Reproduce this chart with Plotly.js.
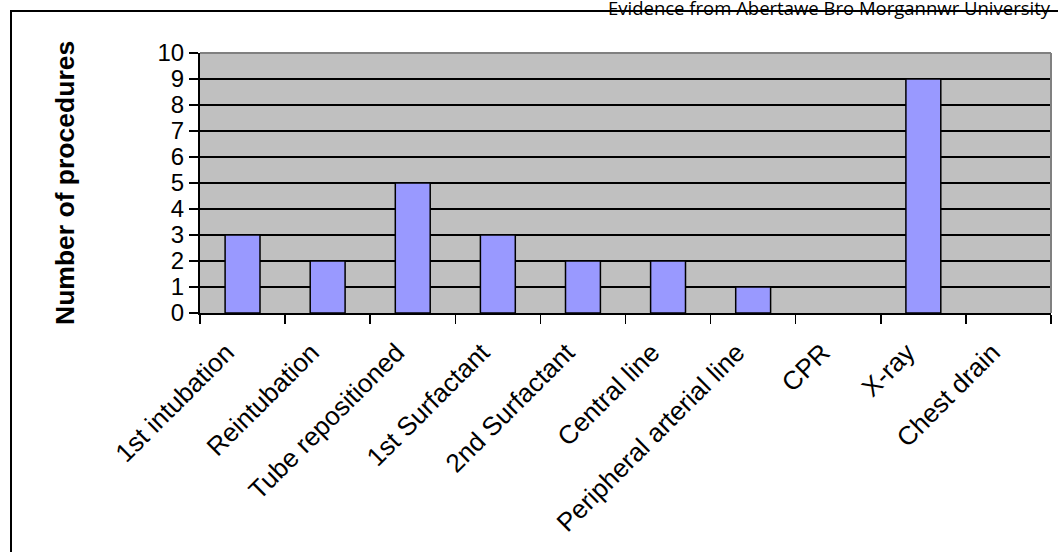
<!DOCTYPE html>
<html>
<head>
<meta charset="utf-8">
<script src="https://cdn.plot.ly/plotly-3.0.1.min.js"></script>
<style>
  html, body { margin: 0; padding: 0; background: #ffffff; }
  #chart { width: 1058px; height: 552px; }
</style>
</head>
<body>
<div id="chart"></div>
<script>
const categories = ["1st intubation", "Reintubation", "Tube repositioned", "1st Surfactant",
  "2nd Surfactant", "Central line", "Peripheral arterial line", "CPR", "X-ray", "Chest drain"];
const procedures = [3, 2, 5, 3, 2, 2, 1, 0, 9, 0];
const yTicks = [0, 1, 2, 3, 4, 5, 6, 7, 8, 9, 10];
const yTitle = "Number of procedures";
const sourceNote = "Evidence from Abertawe Bro Morgannwr University";

const W = 1058, H = 552;
const margin = {l: 200, r: 7, t: 53, b: 239};
const pw = W - margin.l - margin.r, ph = H - margin.t - margin.b;
const px = x => (x - margin.l) / pw;
const py = y => (H - margin.b - y) / ph;

const trace = {
  type: "bar",
  x: categories,
  y: procedures,
  marker: {
    color: "#9999FF",
    line: {color: "#000000", width: procedures.map(v => v > 0 ? 1.5 : 0)}
  },
  hoverinfo: "x+y"
};

const layout = {
  width: W, height: H,
  margin: margin,
  paper_bgcolor: "#ffffff",
  plot_bgcolor: "#C0C0C0",
  bargap: 0.59,
  showlegend: false,
  font: {family: "Liberation Sans, Arial, sans-serif", color: "#000000"},
  xaxis: {
    type: "category",
    tickangle: -45,
    tickfont: {size: 26, family: "Liberation Sans, Arial, sans-serif", color: "#000"},
    ticks: "outside", ticklen: 9, tickwidth: 1.5, tickcolor: "#000",
    tickson: "boundaries",
    ticklabelstandoff: 12,
    ticklabelshift: -16,
    showline: true, linecolor: "#000", linewidth: 2,
    showgrid: false, zeroline: false,
    automargin: false
  },
  yaxis: {
    range: [0, 10],
    tickvals: yTicks,
    ticktext: yTicks.map(String),
    tickfont: {size: 24, family: "Liberation Sans, Arial, sans-serif", color: "#000"},
    ticks: "outside", ticklen: 9, tickwidth: 1.5, tickcolor: "#000",
    showline: true, linecolor: "#000", linewidth: 2,
    showgrid: true, gridcolor: "#000", gridwidth: 1.5,
    zeroline: false,
    automargin: false
  },
  shapes: [
    {type: "line", xref: "paper", yref: "paper", x0: 0, x1: 1, y0: 1, y1: 1,
     line: {color: "#808080", width: 2}, layer: "above"},
    {type: "line", xref: "paper", yref: "paper", x0: 1, x1: 1, y0: 0, y1: 1,
     line: {color: "#808080", width: 2}, layer: "above"},
    {type: "rect", xref: "paper", yref: "paper",
     x0: px(11), x1: px(1075), y0: py(570), y1: py(11),
     line: {color: "#000", width: 2}, fillcolor: "rgba(0,0,0,0)", layer: "above"}
  ],
  annotations: [
    {text: "<b>" + yTitle + "</b>", xref: "paper", yref: "paper",
     x: px(65), y: 0.5, xanchor: "center", yanchor: "middle", textangle: -90,
     showarrow: false, font: {size: 26.5, family: "Liberation Sans, Arial, sans-serif", color: "#000"}},
    {text: sourceNote, xref: "paper", yref: "paper",
     x: px(1053), y: py(22), xanchor: "right", yanchor: "bottom",
     showarrow: false, font: {size: 18.5, family: "Open Sans, sans-serif", color: "#000"}}
  ]
};

Plotly.newPlot("chart", [trace], layout, {displayModeBar: false, staticPlot: true});
</script>
</body>
</html>
